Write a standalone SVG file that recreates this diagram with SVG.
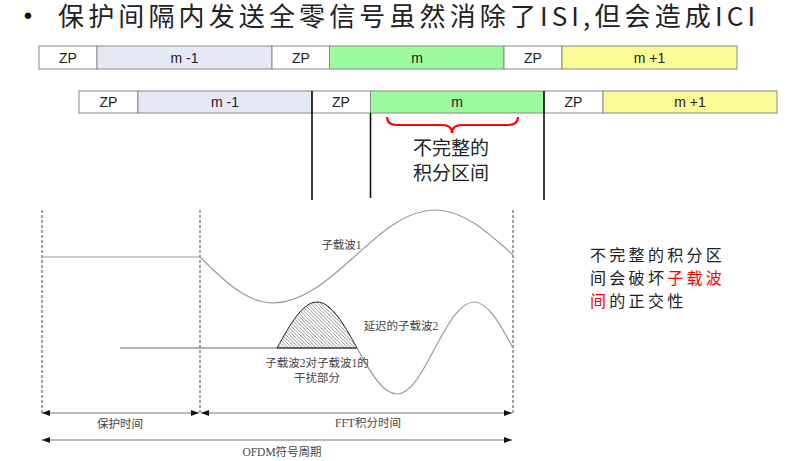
<svg xmlns="http://www.w3.org/2000/svg" width="799" height="461" viewBox="0 0 799 461">
<style>
.bx{stroke:#8a8a8a;stroke-width:1}
.zp{fill:#ffffff}
.m1{fill:#e4e9f5}
.m0{fill:#9cfb9c}
.p1{fill:#fafa96}
.bt{font-family:"Liberation Sans",Arial,sans-serif;font-size:14px;fill:#222;text-anchor:middle}
.cj{font-family:"Noto Sans CJK SC",sans-serif;fill:#222}
.lb{font-family:"Liberation Serif","Noto Sans CJK SC",serif;font-size:11.5px;fill:#444;text-anchor:middle}
.vl{stroke:#111;stroke-width:1.6}
.dash{stroke:#444;stroke-width:1;stroke-dasharray:3,2;fill:none}
.wave{fill:none;stroke:#9a9a9a;stroke-width:1.2}
.arr{stroke:#777;stroke-width:1;fill:none;marker-start:url(#ah);marker-end:url(#ah)}
</style>
<defs>
<marker id="ah" viewBox="0 0 8 6" refX="8" refY="3" markerWidth="8" markerHeight="6" markerUnits="userSpaceOnUse" orient="auto-start-reverse">
<path d="M0,0 L8,3 L0,6 z" fill="#111"/>
</marker>
<pattern id="hatch" patternUnits="userSpaceOnUse" width="3.5" height="3.5">
<path d="M0,0 L3.5,3.5 M-1,2.5 L1,4.5 M2.5,-1 L4.5,1" stroke="#444" stroke-width="0.6"/>
</pattern>
</defs>
<rect width="799" height="461" fill="#fff"/>

<g id="title">
<text x="28" y="24" font-family="Liberation Sans, Arial, sans-serif" font-size="24" fill="#111" text-anchor="middle">•</text>
<text x="58" y="26" class="cj" font-size="26" textLength="697" lengthAdjust="spacing">保护间隔内发送全零信号虽然消除了ISI,但会造成ICI</text>
</g>

<g id="row1">
<g id="r1-zp1"><rect class="bx zp" x="39" y="46" width="58" height="23"/><text class="bt" x="68" y="62.5">ZP</text></g>
<g id="r1-m-1"><rect class="bx m1" x="97" y="46" width="175" height="23"/><text class="bt" x="184.5" y="62.5">m -1</text></g>
<g id="r1-zp2"><rect class="bx zp" x="272" y="46" width="57.5" height="23"/><text class="bt" x="301" y="62.5">ZP</text></g>
<g id="r1-m"><rect class="bx m0" x="329.5" y="46" width="174.5" height="23"/><text class="bt" x="417" y="62.5">m</text></g>
<g id="r1-zp3"><rect class="bx zp" x="504" y="46" width="58" height="23"/><text class="bt" x="533" y="62.5">ZP</text></g>
<g id="r1-m+1"><rect class="bx p1" x="562" y="46" width="175" height="23"/><text class="bt" x="649.5" y="62.5">m +1</text></g>
</g>

<g id="row2">
<g id="r2-zp1"><rect class="bx zp" x="79" y="91" width="59" height="22"/><text class="bt" x="108.5" y="107">ZP</text></g>
<g id="r2-m-1"><rect class="bx m1" x="138" y="91" width="174" height="22"/><text class="bt" x="225" y="107">m -1</text></g>
<g id="r2-zp2"><rect class="bx zp" x="312" y="91" width="58.5" height="22"/><text class="bt" x="341" y="107">ZP</text></g>
<g id="r2-m"><rect class="bx m0" x="370.5" y="91" width="173.5" height="22"/><text class="bt" x="457" y="107">m</text></g>
<g id="r2-zp3"><rect class="bx zp" x="544" y="91" width="59" height="22"/><text class="bt" x="573.5" y="107">ZP</text></g>
<g id="r2-m+1"><rect class="bx p1" x="603" y="91" width="174" height="22"/><text class="bt" x="690" y="107">m +1</text></g>
<line class="vl" x1="312" y1="91" x2="312" y2="200"/>
<line class="vl" x1="544" y1="91" x2="544" y2="200"/>
<line class="vl" x1="370.5" y1="113" x2="370.5" y2="198" stroke-width="1.3"/>
</g>

<g id="brace">
<path d="M387,117 Q387,125 397,125 L442,125 Q452,125 452,133 Q452,125 462,125 L508,125 Q518,125 518,117" fill="none" stroke="#ff0000" stroke-width="2.2"/>
<text class="cj" x="451" y="155" font-size="19" text-anchor="middle">不完整的</text>
<text class="cj" x="451" y="180" font-size="19" text-anchor="middle">积分区间</text>
</g>

<g id="note">
<text class="cj" x="590" y="261" font-size="16" letter-spacing="3.3">不完整的积分区</text>
<text class="cj" x="590" y="284" font-size="16" letter-spacing="3.3">间会破坏<tspan fill="#ff0000">子载波</tspan></text>
<text class="cj" x="590" y="307" font-size="16" letter-spacing="3.3"><tspan fill="#ff0000">间</tspan>的正交性</text>
</g>

<g id="waves">
<line class="dash" x1="42" y1="210" x2="42" y2="413"/>
<line class="dash" x1="200" y1="210" x2="200" y2="413"/>
<line class="dash" x1="513" y1="210" x2="513" y2="413"/>
<g id="subcarrier1">
<path class="wave" d="M42,257 L200,257 C223.8,280.6 246.6,303 273,303 C302.3,303 327.6,280.6 354,257 C380.4,232.9 405.7,210 435,210 C463.2,210 487.5,231.9 513,255"/>
<text class="lb" x="341.5" y="249">子载波1</text>
</g>
<g id="subcarrier2">
<line x1="120" y1="348" x2="357" y2="348" stroke="#666" stroke-width="1"/>
<path d="M277,348 C290.1,324.4 302.5,302 317,302 C331.5,302 343.9,324.4 357,348 Z" fill="url(#hatch)" stroke="#222" stroke-width="1"/>
<path class="wave" d="M357,348 C370.1,371.6 382.5,394 397,394 C410.8,394 422.6,371.6 435,348 C447.7,324.4 459.9,302 474,302 C488.1,302 500.3,324.4 513,348"/>
<text class="lb" x="401" y="330">延迟的子载波2</text>
<text class="lb" x="317" y="367">子载波2对子载波1的</text>
<text class="lb" x="317" y="382">干扰部分</text>
</g>
</g>

<g id="connectors">
<line class="arr" x1="42" y1="413" x2="199" y2="413"/>
<line class="arr" x1="201" y1="413" x2="512" y2="413"/>
<line class="arr" x1="42" y1="440" x2="512" y2="440"/>
</g>
<g id="time-labels">
<text class="lb" x="120" y="428">保护时间</text>
<text class="lb" x="368" y="427">FFT积分时间</text>
<text class="lb" x="282" y="456">OFDM符号周期</text>
</g>
</svg>
